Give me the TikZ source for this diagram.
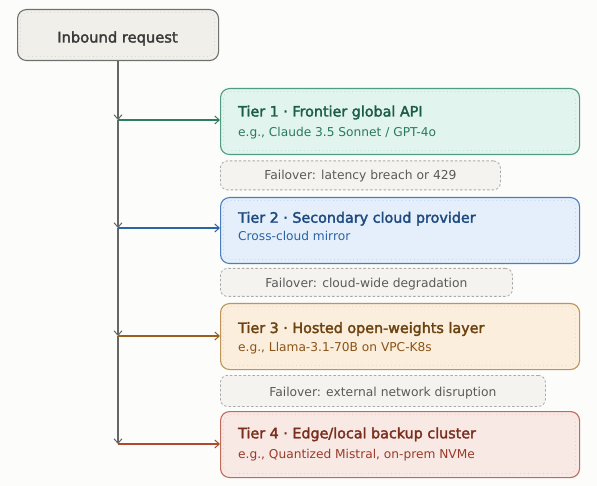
\documentclass[tikz,border=0pt]{standalone}
\usepackage{fontspec}
\setmainfont{DejaVu Sans}
\newfontfamily\medfont{DejaVu Sans}[FakeBold=2.2]
\usetikzlibrary{arrows.meta}
\definecolor{bgc}{HTML}{FCFCFB}
\definecolor{inFill}{HTML}{F1EFEA}
\definecolor{inLine}{HTML}{707070}
\definecolor{inText}{HTML}{3A3A3A}
\definecolor{oneFill}{HTML}{E2F4EE}
\definecolor{oneLine}{HTML}{4E9C82}
\definecolor{oneTitle}{HTML}{1C5E45}
\definecolor{oneSub}{HTML}{2A7A5C}
\definecolor{twoFill}{HTML}{E4EFFB}
\definecolor{twoLine}{HTML}{4A7EC0}
\definecolor{twoTitle}{HTML}{1E4A80}
\definecolor{twoSub}{HTML}{2A62A8}
\definecolor{thrFill}{HTML}{FBEEDC}
\definecolor{thrLine}{HTML}{BE9458}
\definecolor{thrTitle}{HTML}{6B4210}
\definecolor{thrSub}{HTML}{8A5418}
\definecolor{fouFill}{HTML}{F9E9E5}
\definecolor{fouLine}{HTML}{C26A58}
\definecolor{fouTitle}{HTML}{7A2E1E}
\definecolor{fouSub}{HTML}{9A3A28}
\definecolor{foFill}{HTML}{F4F3EF}
\definecolor{foLine}{HTML}{ABABAB}
\definecolor{foText}{HTML}{5A5A5A}
\definecolor{trunk}{HTML}{666666}
\definecolor{arOne}{HTML}{2E7D62}
\definecolor{arTwo}{HTML}{2C64A8}
\definecolor{arThr}{HTML}{9A5F1A}
\definecolor{arFou}{HTML}{B0482E}
\tikzset{
  boxbase/.style={rectangle, rounded corners=9pt, anchor=north west, line width=1.1pt, inner sep=0pt},
  tierbox/.style={boxbase, minimum width=359pt, minimum height=66pt},
  fobox/.style={rectangle, rounded corners=7pt, anchor=north west, draw=foLine, fill=foFill, dash pattern=on 2.5pt off 2pt, line width=0.8pt, inner sep=0pt},
  fotext/.style={anchor=base, font=\fontsize{12.3}{15}\selectfont, text=foText, inner sep=0pt},
  innerdots/.style={draw=#1, line width=0.7pt, dash pattern=on 0.8pt off 3pt, rounded corners=7pt},
  ttl/.style={anchor=base west, font=\medfont\fontsize{14.3}{17}\selectfont, inner sep=0pt},
  sub/.style={anchor=base west, font=\fontsize{12.2}{15}\selectfont, inner sep=0pt},
  flow/.style={-{Straight Barb[length=4.5pt,width=8pt,line width=1pt]}, line width=1.1pt},
}
\begin{document}
\begin{tikzpicture}[x=1pt,y=-1pt]
\useasboundingbox (0,0) rectangle (597,486);
\fill[bgc] (0,0) rectangle (597,486);

% inbound
\node[boxbase, draw=inLine, fill=inFill, minimum width=201pt, minimum height=51pt] (inb) at (17,9) {};
\draw[innerdots=inLine!30] (20.5,12.5) rectangle (214.5,56.5);
\node[anchor=base, inner sep=0pt, font=\medfont\fontsize{14.7}{17}\selectfont, text=inText] (inbt) at (117.5,42.5) {Inbound request};

% tier 1
\node[tierbox, draw=oneLine, fill=oneFill] (t1) at (220,88) {};
\draw[innerdots=oneLine!35] (223.5,91.5) rectangle (575.5,150.5);
\node[ttl, text=oneTitle] (t1a) at (238,116.5) {Tier 1 · Frontier global API};
\node[sub, text=oneSub] (t1b) at (238,136.5) {e.g., Claude 3.5 Sonnet / GPT-4o};

% failover 1
\node[fobox, minimum width=280pt, minimum height=29pt] (f1) at (220,160.5) {};
\node[fotext] (f1t) at (f1.center |- 0,180) {Failover: latency breach or 429};

% tier 2
\node[tierbox, draw=twoLine, fill=twoFill] (t2) at (220,197) {};
\draw[innerdots=twoLine!35] (223.5,200.5) rectangle (575.5,259.5);
\node[ttl, text=twoTitle] (t2a) at (238,222.7) {Tier 2 · Secondary cloud provider};
\node[sub, text=twoSub] (t2b) at (238,241) {Cross-cloud mirror};

% failover 2
\node[fobox, minimum width=292pt, minimum height=28pt] (f2) at (220,268) {};
\node[fotext] (f2t) at (f2.center |- 0,287.3) {Failover: cloud-wide degradation};

% tier 3
\node[tierbox, draw=thrLine, fill=thrFill] (t3) at (220,303) {};
\draw[innerdots=thrLine!35] (223.5,306.5) rectangle (575.5,365.5);
\node[ttl, text=thrTitle] (t3a) at (238,333) {Tier 3 · Hosted open-weights layer};
\node[sub, text=thrSub] (t3b) at (238,351.7) {e.g., Llama-3.1-70B on VPC-K8s};

% failover 3
\node[fobox, minimum width=325pt, minimum height=31pt] (f3) at (220,375) {};
\node[fotext] (f3t) at (f3.center |- 0,396.5) {Failover: external network disruption};

% tier 4
\node[tierbox, draw=fouLine, fill=fouFill] (t4) at (220,411) {};
\draw[innerdots=fouLine!35] (223.5,414.5) rectangle (575.5,473.5);
\node[ttl, text=fouTitle] (t4a) at (238,438.3) {Tier 4 · Edge/local backup cluster};
\node[sub, text=fouSub] (t4b) at (238,458.3) {e.g., Quantized Mistral, on-prem NVMe};

% junctions
\coordinate (j1) at (118,120);
\coordinate (j2) at (118,228);
\coordinate (j3) at (118,336);
\coordinate (j4) at (118,444);

\draw[flow, trunk] (inb.south -| j1) -- (j1);
\draw[flow, trunk] (j1) -- (j2);
\draw[flow, trunk] (j2) -- (j3);
\draw[flow, trunk] (j3) -- (j4);

\draw[flow, arOne] (j1) -- (j1 -| t1.west);
\draw[flow, arTwo] (j2) -- (j2 -| t2.west);
\draw[flow, arThr] (j3) -- (j3 -| t3.west);
\draw[flow, arFou] (j4) -- (j4 -| t4.west);
\end{tikzpicture}
\end{document}
